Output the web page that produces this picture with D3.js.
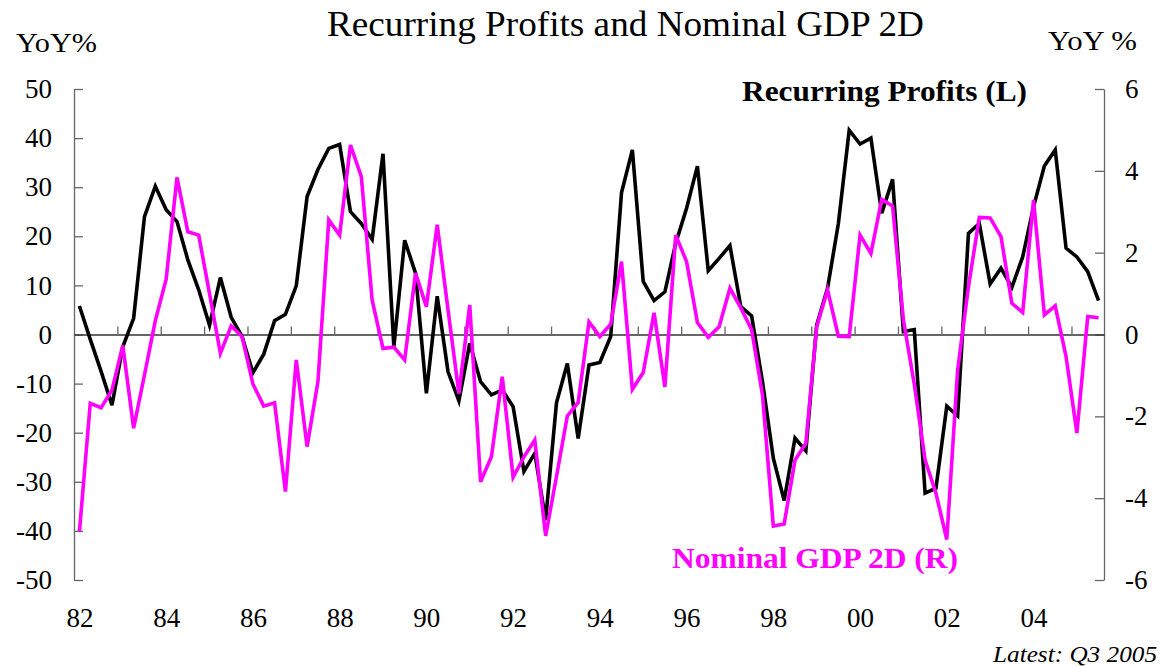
<!DOCTYPE html>
<html>
<head>
<meta charset="utf-8">
<script src="https://cdn.jsdelivr.net/npm/d3@7"></script>
<style>
  body { margin: 0; background: #fff; }
  svg { display: block; font-family: "Times New Roman", "Liberation Serif", serif; }
</style>
</head>
<body>
<div id="chart"></div>
<script>

// Quarterly data, 1982 Q1 .. 2005 Q3
const years = [1982, 1983, 1984, 1985, 1986, 1987, 1988, 1989, 1990, 1991, 1992, 1993,
  1994, 1995, 1996, 1997, 1998, 1999, 2000, 2001, 2002, 2003, 2004, 2005];
const quarters = years.flatMap(y => ["Q1", "Q2", "Q3", "Q4"].map(q => y + q)).slice(0, 95);

// Recurring profits, YoY % (left axis)
const profits = [
  5.8, -1.0, -7.5, -14.4, -2.5, 3.3, 24.0, 30.2, 25.4, 23.0, 15.2, 9.1,
  1.9, 11.6, 3.5, -0.4, -7.8, -4.0, 2.8, 4.1, 9.9, 28.1, 33.6, 37.9,
  38.7, 25.0, 22.6, 19.4, 36.8, -2.5, 19.2, 12.5, -12.0, 7.8, -7.6, -13.5,
  -1.8, -9.6, -12.3, -11.3, -14.7, -27.9, -24.2, -37.8, -13.9, -5.9, -21.2, -6.2,
  -5.7, -0.4, 28.9, 37.6, 10.8, 6.9, 8.7, 18.6, 25.7, 34.3, 13.0, 15.5,
  18.1, 5.7, 3.8, -9.6, -25.2, -33.8, -21.1, -23.7, 1.9, 9.4, 22.6, 41.6,
  38.8, 40.0, 24.7, 31.6, 0.6, 1.0, -32.3, -31.3, -14.6, -16.6, 20.6, 22.6,
  10.3, 13.5, 9.6, 15.8, 26.0, 34.3, 37.6, 17.6, 15.8, 12.8, 6.9
];

// Nominal GDP 2D, YoY % (right axis)
const gdp = [
  -4.82, -1.68, -1.79, -1.36, -0.27, -2.29, -0.99, 0.34, 1.35, 3.84, 2.51, 2.43,
  1.00, -0.46, 0.21, -0.05, -1.21, -1.75, -1.67, -3.84, -0.62, -2.74, -1.15, 2.80,
  2.43, 4.63, 3.86, 0.84, -0.34, -0.31, -0.62, 1.50, 0.68, 2.68, 0.60, -1.44,
  0.72, -3.60, -2.99, -1.03, -3.49, -2.99, -2.58, -4.92, -3.47, -1.99, -1.66, 0.31,
  -0.05, 0.25, 1.78, -1.34, -0.93, 0.53, -1.28, 2.43, 1.78, 0.29, -0.07, 0.19,
  1.13, 0.65, 0.12, -1.48, -4.68, -4.63, -3.07, -2.66, 0.19, 1.09, -0.04, -0.05,
  2.43, 1.98, 3.30, 3.14, 0.35, -1.21, -3.07, -3.88, -5.01, -0.87, 1.17, 2.86,
  2.85, 2.39, 0.76, 0.54, 3.29, 0.48, 0.70, -0.54, -2.41, 0.44, 0.41
];

const xLabels = ["82", "84", "86", "88", "90", "92", "94", "96", "98", "00", "02", "04"];
const leftTicks = [-50, -40, -30, -20, -10, 0, 10, 20, 30, 40, 50];
const rightTicks = [-6, -4, -2, 0, 2, 4, 6];


const WIDTH = 1162, HEIGHT = 666;
const PLOT_LEFT = 74, PLOT_RIGHT = 1104, PLOT_TOP = 89, PLOT_BOTTOM = 580;
const AXIS_COLOR = "#666";
const SERIF = "\"Times New Roman\", \"Liberation Serif\", serif";

let svg = d3.select("#chart").append("svg")
    .attr("width", WIDTH)
    .attr("height", HEIGHT);

// categories sit in the middle of equal slots, like a spreadsheet line chart
let x = d3.scaleLinear()
    .domain([-0.5, quarters.length - 0.5])
    .range([PLOT_LEFT, PLOT_RIGHT]);

let yLeft = d3.scaleLinear().domain([-50, 50]).range([PLOT_BOTTOM, PLOT_TOP]);
let yRight = d3.scaleLinear().domain([-6, 6]).range([PLOT_BOTTOM, PLOT_TOP]);

// plain hyphen for negatives, as in the original
let plain = d => String(d);


// Axes:
let leftAxis = svg.append("g")
    .attr("transform", "translate(" + PLOT_LEFT + ",0)")
    .call(d3.axisLeft(yLeft)
        .tickValues(leftTicks)
        .tickSizeInner(-9)
        .tickSizeOuter(0)
        .tickPadding(22)
        .tickFormat(plain));

let rightAxis = svg.append("g")
    .attr("transform", "translate(" + PLOT_RIGHT + ",0)")
    .call(d3.axisRight(yRight)
        .tickValues(rightTicks)
        .tickSizeInner(-9)
        .tickSizeOuter(0)
        .tickPadding(21)
        .tickFormat(plain));

// year boundaries, ticks pointing up from the zero line
let boundaries = quarters.map((q, i) => i)
    .filter(i => i > 0 && i % 4 === 0)
    .map(i => i - 0.5);

let zeroAxis = svg.append("g")
    .attr("transform", "translate(0," + yLeft(0) + ")")
    .call(d3.axisTop(x)
        .tickValues(boundaries)
        .tickSize(8)
        .tickSizeOuter(0)
        .tickFormat(""));

let labelAxis = svg.append("g")
    .attr("transform", "translate(0," + PLOT_BOTTOM + ")")
    .call(d3.axisBottom(x)
        .tickValues(xLabels.map((l, k) => k * 8))
        .tickSize(0)
        .tickPadding(28)
        .tickFormat((d, k) => xLabels[k]));
labelAxis.select(".domain").remove();

[leftAxis, rightAxis, zeroAxis, labelAxis].forEach(a =>
{
  a.attr("font-family", SERIF);
  a.selectAll(".domain, line").attr("stroke", AXIS_COLOR).attr("stroke-width", 1.3);
  a.selectAll("text")
      .attr("fill", "#000")
      .style("font-family", SERIF)
      .style("font-size", "27px");
});
zeroAxis.select(".domain").attr("stroke", "#333");


// Lines:
let lineLeft = d3.line()
    .x((d, i) => x(i))
    .y(d => yLeft(d));

let lineRight = d3.line()
    .x((d, i) => x(i))
    .y(d => yRight(d));

svg.append("path")
    .datum(profits)
    .attr("d", lineLeft)
    .attr("fill", "none")
    .attr("stroke", "#000")
    .attr("stroke-width", 3.6)
    .attr("stroke-linejoin", "miter");

svg.append("path")
    .datum(gdp)
    .attr("d", lineRight)
    .attr("fill", "none")
    .attr("stroke", "#ff00ff")
    .attr("stroke-width", 3.6)
    .attr("stroke-linejoin", "miter");


// Texts (the original face runs a little wider, so widths are pinned):
function label(txt, px, py, size, len)
{
  let t = svg.append("text")
      .attr("x", px)
      .attr("y", py)
      .style("font-size", size + "px")
      .text(txt);
  if (len)
  {
    t.attr("textLength", len).attr("lengthAdjust", "spacingAndGlyphs");
  }
  return t;
}

label("Recurring Profits and Nominal GDP 2D", 327, 36, 36, 597);
label("YoY%", 16, 52, 28, 81);
label("YoY %", 1048, 50, 28, 89);

label("Recurring Profits (L)", 742, 101, 29, 285)
    .attr("font-weight", "bold");

label("Nominal GDP 2D (R)", 672, 568, 29, 286)
    .attr("font-weight", "bold")
    .attr("fill", "#ff00ff");

label("Latest: Q3 2005", 993, 662, 23, 164)
    .attr("font-style", "italic");

</script>
</body>
</html>
